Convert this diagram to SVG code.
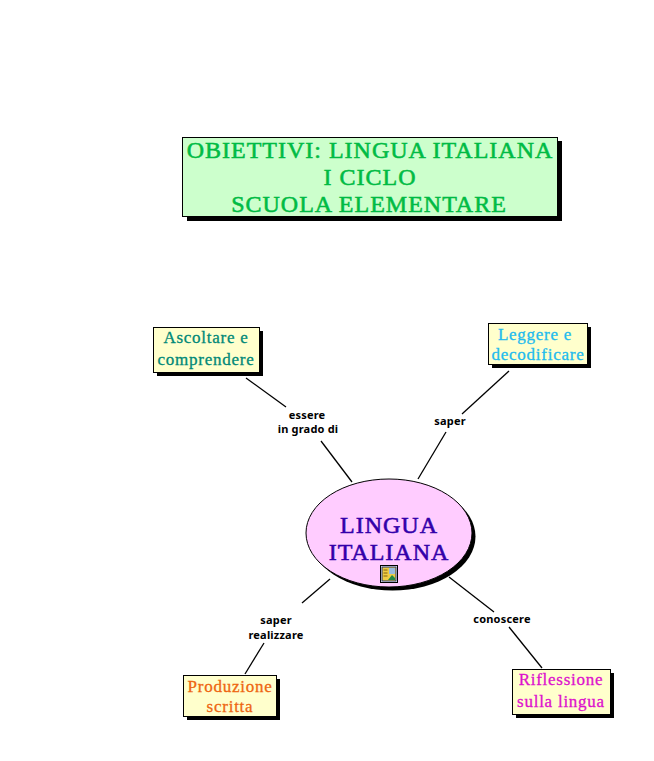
<svg xmlns="http://www.w3.org/2000/svg" width="654" height="761" viewBox="0 0 654 761">
<style>
.s{fill:#000;stroke:none}
.b{stroke:#000;stroke-width:1}
.y{fill:#ffffcc}
text{font-family:"Liberation Serif",serif;text-anchor:middle}
.h text{font-size:24px;letter-spacing:1px;stroke-width:.55px}
.n text{font-size:17px;letter-spacing:.75px;stroke-width:.3px}
.l{font-family:"Noto Sans",sans-serif;font-size:11px;font-weight:700;fill:#000;letter-spacing:.2px}
.c line{stroke:#000;stroke-width:1.3}
</style>
<rect width="654" height="761" fill="#fff"/>
<g id="connectors" class="c">
<line x1="246" y1="378" x2="286" y2="407"/><line x1="321" y1="441" x2="352" y2="482"/>
<line x1="509" y1="371" x2="462" y2="414"/><line x1="446" y1="432" x2="418" y2="479"/>
<line x1="330" y1="579" x2="302" y2="603"/><line x1="264" y1="643" x2="245" y2="674"/>
<line x1="449" y1="577" x2="494" y2="612"/><line x1="509" y1="627" x2="542" y2="668"/>
<text class="l" x="307" y="419">essere</text><text class="l" x="308" y="433">in grado di</text>
<text class="l" x="450" y="425">saper</text>
<text class="l" x="276" y="624">saper</text><text class="l" x="276" y="639">realizzare</text>
<text class="l" x="502" y="623">conoscere</text>
</g>
<g id="title">
<rect class="s" x="187" y="141" width="375" height="80"/>
<rect class="b" x="182.500" y="137.500" width="375" height="79" fill="#ccffcc"/>
<g class="h" fill="#00bb44" stroke="#00bb44">
<text x="370" y="158">OBIETTIVI: LINGUA ITALIANA</text>
<text x="370" y="185">I CICLO</text>
<text x="369" y="212">SCUOLA ELEMENTARE</text>
</g>
</g>
<g id="lingua-italiana">
<ellipse class="s" cx="392.500" cy="536.500" rx="83" ry="54"/>
<ellipse class="b" cx="389" cy="533" rx="83" ry="54" fill="#ffccff"/>
<g class="h" fill="#3300aa" stroke="#3300aa">
<text x="389" y="533">LINGUA</text>
<text x="389" y="560">ITALIANA</text>
</g>
<g id="icon">
<rect x="380.500" y="565.500" width="17" height="17" fill="#fff" stroke="#000"/>
<rect x="382" y="567" width="14" height="14" fill="#eecc44" stroke="#223366" stroke-width="1"/>
<rect x="389" y="568" width="6" height="6" fill="#99bbdd"/>
<path d="M388 580l4-5 3 3v2z" fill="#228844"/>
<path d="M383.500 570h4M383.500 573h4M383.500 576h4" stroke="#664400" stroke-width=".8"/>
</g>
</g>
<g id="ascoltare">
<rect class="s" x="157" y="331" width="106" height="45"/>
<rect class="b y" x="153.500" y="327.500" width="106" height="45"/>
<g class="n" fill="#008877" stroke="#008877"><text x="206" y="343">Ascoltare e</text><text x="206" y="365">comprendere</text></g>
</g>
<g id="leggere">
<rect class="s" x="492" y="327" width="99" height="41"/>
<rect class="b y" x="488.500" y="323.500" width="99" height="41"/>
<g class="n" fill="#22bbee" stroke="#22bbee"><text x="535" y="340">Leggere e</text><text x="538" y="360">decodificare</text></g>
</g>
<g id="produzione">
<rect class="s" x="187" y="679" width="93" height="41"/>
<rect class="b y" x="183.500" y="675.500" width="93" height="41"/>
<g class="n" fill="#ee6611" stroke="#ee6611"><text x="230" y="692">Produzione</text><text x="230" y="712">scritta</text></g>
</g>
<g id="riflessione">
<rect class="s" x="516" y="673" width="98" height="45"/>
<rect class="b y" x="512.500" y="669.500" width="98" height="45"/>
<g class="n" fill="#dd11cc" stroke="#dd11cc"><text x="561" y="685">Riflessione</text><text x="561" y="707">sulla lingua</text></g>
</g>
</svg>
